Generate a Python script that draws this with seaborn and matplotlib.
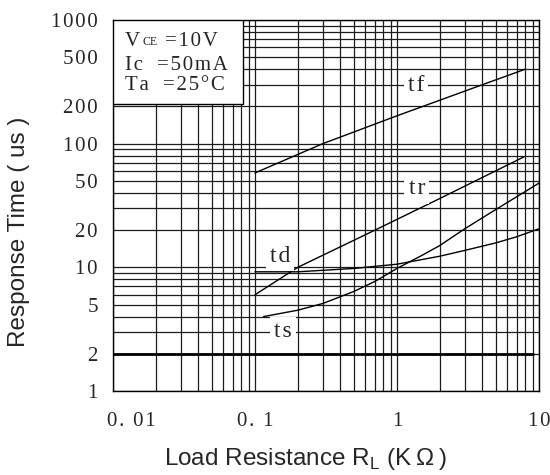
import matplotlib
matplotlib.use("Agg")
import matplotlib.pyplot as plt
import matplotlib.transforms as mtransforms
from matplotlib.ticker import LogLocator, NullFormatter, FixedLocator, FixedFormatter
from matplotlib.patches import Rectangle
import seaborn as sns
import numpy as np

# ---- data ----
tf_x = [0.1, 0.3, 1, 4, 8]
tf_y = [58, 100, 168, 300, 400]

tr_x = [0.1, 0.2, 0.7, 2, 7.8]
tr_y = [6, 10, 20, 36, 78]

td_x = [0.1, 0.2, 0.5, 1, 2, 3, 5, 7, 10]
td_y = [9.2, 9.2, 9.8, 10.6, 12.3, 13.7, 15.8, 17.7, 20.5]

ts_x = [0.115, 0.2, 0.3, 0.5, 0.7, 1, 1.5, 2, 3, 5, 8, 10]
ts_y = [4.0, 4.5, 5.1, 6.4, 7.7, 9.8, 12.5, 15, 20.5, 29.5, 41, 48]

curve_names = ["tf", "tr", "td", "ts"]
label_pos = {"tf": (1.36, 295), "tr": (1.38, 43), "td": (0.15, 12.2), "ts": (0.157, 3.0)}

x_ticks = [0.01, 0.1, 1, 10]
x_ticklabels = ["0. 01", "0. 1", "1", "10"]
y_ticks = [1, 2, 5, 10, 20, 50, 100, 200, 500, 1000]
y_ticklabels = ["1", "2", "5", "10", "20", "50", "100", "200", "500", "1000"]

cond_lines = [("V", "CE", " =10V"), ("Ic", "", "  =50mA"), ("Ta", "", "  =25\u00b0C")]

HS = "\u200a"  # hair space to imitate the wide letter spacing of the original font


def spaced(s):
    return HS.join(list(s))


# ---- figure ----
sns.set_style("white")
plt.rcParams["font.family"] = ["Liberation Sans", "DejaVu Sans"]
serif = ["Liberation Serif", "DejaVu Serif"]

fig = plt.figure(figsize=(5.5, 4.75), dpi=100)
ax = fig.add_axes([113 / 550, 1 - 391 / 475, 426 / 550, 371 / 475])
ax.set_xscale("log")
ax.set_yscale("log")
ax.set_xlim(0.01, 10)
ax.set_ylim(1, 1000)
ax.set_axisbelow(True)

gridc = "#1c1c1c"
ax.xaxis.set_minor_locator(LogLocator(base=10, subs=np.arange(2, 10)))
ax.yaxis.set_minor_locator(LogLocator(base=10, subs=np.arange(2, 10)))
ax.xaxis.set_minor_formatter(NullFormatter())
ax.yaxis.set_minor_formatter(NullFormatter())
ax.grid(which="both", color=gridc, lw=0.9)

ax.xaxis.set_major_locator(FixedLocator(x_ticks))
ax.xaxis.set_major_formatter(FixedFormatter([spaced(s) for s in x_ticklabels]))
ax.yaxis.set_major_locator(FixedLocator(y_ticks))
ax.yaxis.set_major_formatter(FixedFormatter([spaced(s) for s in y_ticklabels]))
ax.tick_params(which="both", length=0)
ax.tick_params(axis="x", pad=15, labelsize=15)
ax.tick_params(axis="y", pad=11, labelsize=15)
for lab in ax.get_xticklabels() + ax.get_yticklabels():
    lab.set_family(serif)
# shift the first x label to the right like the reference
first = ax.get_xticklabels()[0]
first.set_transform(first.get_transform() +
                    mtransforms.ScaledTranslation(0.18, 0, fig.dpi_scale_trans))

for s in ax.spines.values():
    s.set_color("black")
    s.set_linewidth(1.0)

# thick line at 2
ax.axhline(2, xmin=0, xmax=(533 - 113) / 426, color="black", lw=2.0, zorder=1.5)

# curves
data = {"tf": (tf_x, tf_y), "tr": (tr_x, tr_y), "td": (td_x, td_y), "ts": (ts_x, ts_y)}
for name in curve_names:
    xs, ys = data[name]
    sns.lineplot(x=xs, y=ys, ax=ax, color="black", lw=1.0, zorder=2,
                 estimator=None, sort=False)

for name in curve_names:
    x, y = label_pos[name]
    ax.text(x, y, spaced(name), family=serif, fontsize=17, ha="center", va="center",
            zorder=4, bbox=dict(facecolor="white", edgecolor="none", pad=3.0))

# conditions box
ax.add_patch(Rectangle((0, 1 - (104 - 20) / 371), (243 - 113) / 426, (104 - 20) / 371,
                       transform=ax.transAxes, facecolor="white", edgecolor="black",
                       lw=1.0, zorder=3))
ypix = [41, 65, 86]
for (a, sub, rest), yp in zip(cond_lines, ypix):
    yax = (391 - yp) / 371
    t1 = ax.text((125 - 113) / 426, yax, spaced(a), transform=ax.transAxes,
                 family=serif, fontsize=15, va="center", ha="left", zorder=5)
    anchor = t1
    if sub:
        anchor = ax.annotate(sub, xy=(1, 0.15), xycoords=t1, xytext=(1.5, 0),
                             textcoords="offset points", family=serif, fontsize=8.5,
                             va="bottom", ha="left", zorder=5)
    ax.annotate(spaced(rest), xy=(1, 0.5), xycoords=anchor if not sub else t1,
                xytext=((0, 0) if not sub else (13, 0)), textcoords="offset points",
                family=serif, fontsize=15, va="center", ha="left", zorder=5)

ax.set_ylabel("Response Time ( us )", fontsize=17.5)
ax.yaxis.set_label_coords((30 - 113) / 426, (391 - 232) / 371)
ax.set_xlabel("Load Resistance R$_\\mathregular{L}$ (K\u2009\u03a9\u2009)", fontsize=17.5)
ax.xaxis.set_label_coords((305 - 113) / 426, (391 - 446) / 371)

fig.savefig("out.png", dpi=100)
